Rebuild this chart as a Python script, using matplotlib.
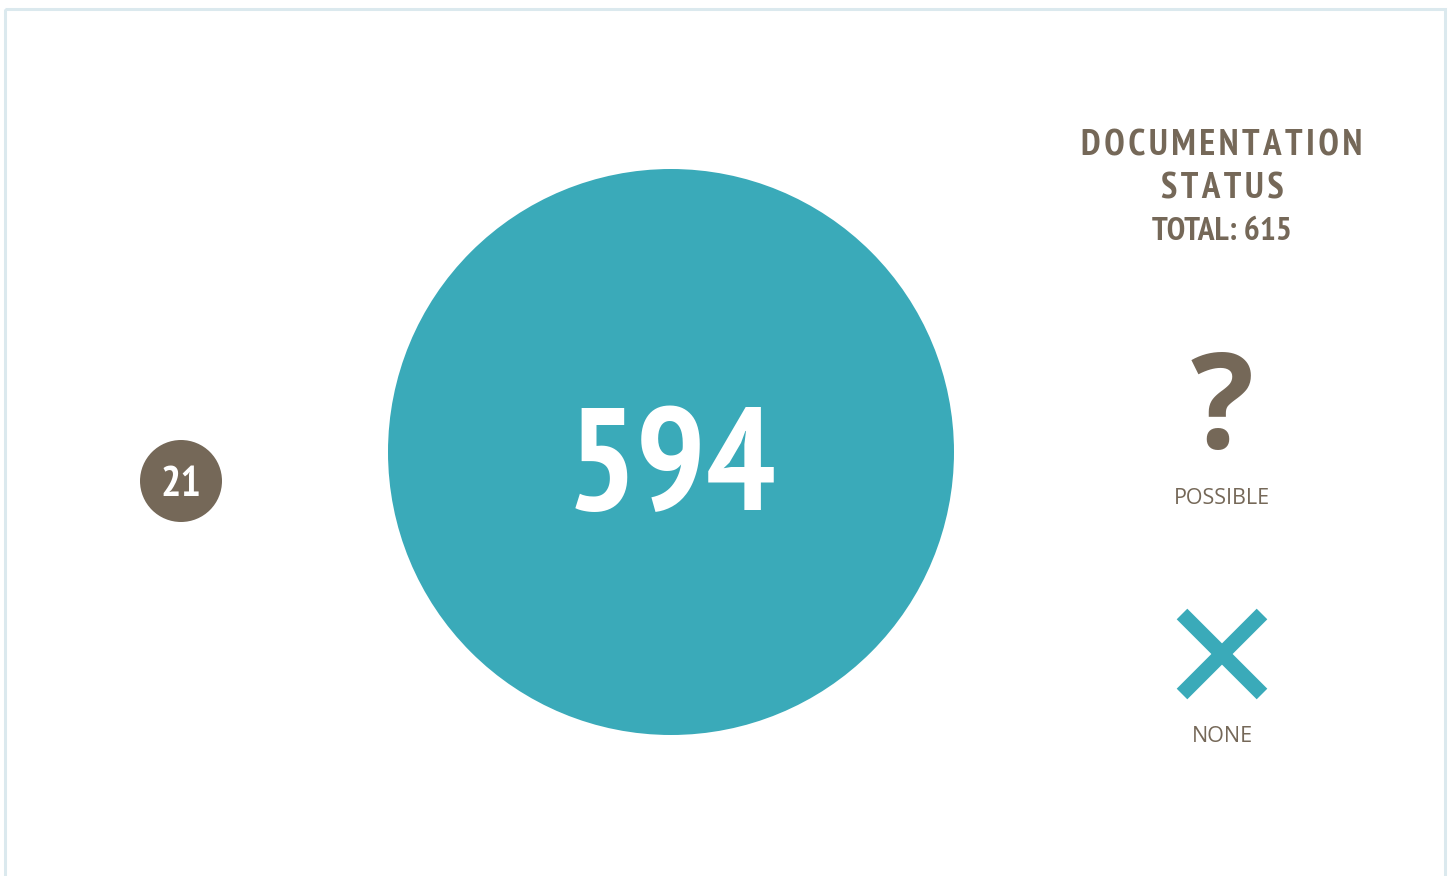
import matplotlib
matplotlib.use("Agg")
import matplotlib.pyplot as plt
from matplotlib.patches import Circle, Rectangle
from matplotlib import font_manager
import numpy as np

# ---- data ----
categories = ["POSSIBLE", "NONE"]
values = [21, 594]
title_lines = ["DOCUMENTATION", "STATUS"]
total_label = "TOTAL: 615"

BROWN = "#756858"
TEAL = "#3aaab9"
BORDER = "#dbe9ee"

names = {f.name for f in font_manager.fontManager.ttflist}
def pick(*cands):
    for c in cands:
        if c in names:
            return c
    return "DejaVu Sans"
NARROW = pick("PT Sans Narrow", "Archivo Narrow", "Barlow Semi Condensed", "Encode Sans Condensed")
OPEN = pick("Open Sans", "Noto Sans")

W, H = 1452, 876
fig = plt.figure(figsize=(W / 100, H / 100), dpi=100)
ax = fig.add_axes([0, 0, 1, 1])
ax.set_xlim(0, W)
ax.set_ylim(H, 0)
ax.set_aspect("equal")
ax.axis("off")

# border
ax.add_patch(Rectangle((5, 9), 1440, 900, fill=False, edgecolor=BORDER, linewidth=2.2))

# radius scale (sqrt scale, domain [min,max] -> range)
vmin, vmax = min(values), max(values)
rmin, rmax = 41, 283
def rscale(v):
    t = (np.sqrt(v) - np.sqrt(vmin)) / (np.sqrt(vmax) - np.sqrt(vmin))
    return rmin + t * (rmax - rmin)

colors = [BROWN, TEAL]
centers = [(181, 481), (671, 452)]
for v, c, (cx, cy) in zip(values, colors, centers):
    r = rscale(v)
    ax.add_patch(Circle((cx, cy), r, facecolor=c, edgecolor="none"))
    fs = r * 0.372 if v == vmax else r * 0.75
    ax.text(cx, cy + (21 if v == vmax else 5), str(v), color="white", fontsize=fs,
            fontfamily=NARROW, fontweight="bold",
            ha="center", va="center")

# title (lightly letter-spaced with hair spaces)
HS = "\u200a"
def track(s):
    return HS.join(s)
ax.text(1222, 146, track(title_lines[0]), color=BROWN, fontsize=26.5,
        fontfamily=[NARROW, "DejaVu Sans"], fontweight="bold", ha="center", va="center")
ax.text(1222, 189, track(title_lines[1]), color=BROWN, fontsize=26.5,
        fontfamily=[NARROW, "DejaVu Sans"], fontweight="bold", ha="center", va="center")
ax.text(1222, 232, total_label, color=BROWN, fontsize=24,
        fontfamily=NARROW, fontweight="bold", ha="center", va="center")

# legend: question mark
ax.text(1222, 414, "?", color=BROWN, fontsize=95, fontfamily=OPEN,
        fontweight="bold", ha="center", va="center")
ax.text(1222, 498, categories[0], color=BROWN, fontsize=15.5, fontfamily=OPEN,
        ha="center", va="center")

# legend: cross
cx, cy, d = 1222, 654, 40
lw = 15 * 72 / 100
ax.plot([cx - d, cx + d], [cy - d, cy + d], color=TEAL, lw=lw, solid_capstyle="butt")
ax.plot([cx - d, cx + d], [cy + d, cy - d], color=TEAL, lw=lw, solid_capstyle="butt")
ax.text(1222, 737, categories[1], color=BROWN, fontsize=15.5, fontfamily=OPEN,
        ha="center", va="center")

fig.savefig("out.png", dpi=100)
